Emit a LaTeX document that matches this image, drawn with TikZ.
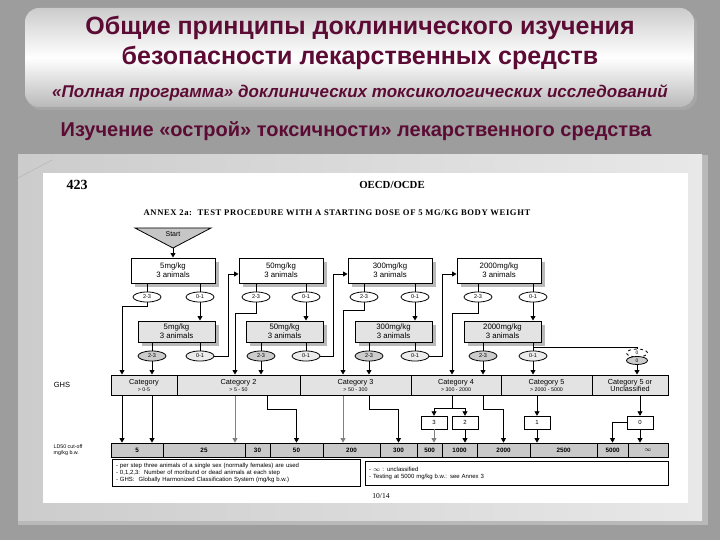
\documentclass[tikz,border=0pt]{standalone}
\usepackage{fontspec}
\setmainfont{Liberation Sans}
\newfontfamily\paperfont{Liberation Serif}
\newfontfamily\annexfont[LetterSpace=7]{Liberation Serif}
\usetikzlibrary{shapes.geometric,shadows,arrows.meta}
\definecolor{titlered}{HTML}{5C0B34}
\definecolor{slidebg}{HTML}{9D9D9D}
\tikzset{
  arr/.style={-{Triangle[length=4.5pt,width=5pt]}, line width=0.8pt},
  dosebox/.style={draw, line width=1pt, fill=white, minimum width=84pt, minimum height=25pt,
    inner sep=0pt, align=center, font=\fontsize{7.8}{8.8}\selectfont,
    drop shadow={shadow xshift=4pt, shadow yshift=-4pt, fill=gray!55, opacity=1}},
  outcome/.style={draw, ellipse, line width=0.8pt, fill=white, minimum width=28pt, minimum height=10pt,
    inner sep=0pt, font=\fontsize{5.5}{6}\selectfont},
  catbox/.style={draw, line width=1pt, fill=gray!22, minimum height=20pt, inner sep=0pt,
    align=center, font=\fontsize{7.3}{8}\selectfont},
  ldbox/.style={draw, line width=0.8pt, fill=gray!42, minimum height=14pt, inner sep=0pt,
    font=\fontsize{6.3}{7}\selectfont\bfseries},
  countbox/.style={draw, fill=white, minimum width=26pt, minimum height=13pt, inner sep=0pt,
    font=\fontsize{6}{6.5}\selectfont},
  notebox/.style={draw, line width=0.8pt, fill=white, minimum height=24pt, inner sep=4pt,
    align=left, font=\fontsize{6}{7}\selectfont},
  titletext/.style={text=titlered, font=\bfseries\fontsize{25}{28}\selectfont}
}
\begin{document}
\begin{tikzpicture}[x=1pt, y=-1pt]
  \fill[slidebg] (0,0) rectangle (720,540);
  \useasboundingbox (0,0) rectangle (720,540);
  \fill[gray!70, rounded corners=14pt] (27,11) rectangle (697,110);
  \shade[rounded corners=14pt, top color=gray!40, bottom color=gray!55, middle color=white] (25,8) rectangle (694,107);
  \node[titletext] (t1) at (360,28) {Общие принципы доклинического изучения};
  \node[titletext] (t2) at (360,58) {безопасности лекарственных средств};
  \node[text=titlered, font=\bfseries\itshape\fontsize{17}{20}\selectfont] (t3) at (360,93) {«Полная программа» доклинических токсикологических исследований};
  \node[titletext, font=\bfseries\fontsize{20}{23}\selectfont] (t4) at (356,131) {Изучение «острой» токсичности» лекарственного средства};

  \fill[gray!55] (18,155) rectangle (708,525);
  \shade[left color=gray!40, right color=gray!18] (18,155) rectangle (702,520);
  \fill[white] (43,173) rectangle (688,503);
  \draw[gray!60] (18,178) -- (52,160);

  \node[font=\paperfont\bfseries\fontsize{14}{16}\selectfont] (pg) at (77,185) {423};
  \node[font=\paperfont\bfseries\fontsize{10.8}{12}\selectfont] (oecd) at (392,185) {OECD/OCDE};
  \node[font=\annexfont\bfseries\fontsize{8.6}{10}\selectfont] (annex) at (337,213) {ANNEX 2a:\ \ TEST PROCEDURE WITH A STARTING DOSE OF 5 MG/KG BODY WEIGHT};

  \filldraw[fill=gray!45, line width=0.8pt] (135,228) -- (211,228) -- (173,248) -- cycle;
  \node[font=\fontsize{7}{7.5}\selectfont] (start) at (173,234) {Start};
  \coordinate (tip) at (173,248);

  \node[catbox, minimum width=66pt] (c1) at (144,385) {Category\\[-1pt]{\fontsize{5.3}{6}\selectfont > 0-5}};
  \node[catbox, minimum width=123pt] (c2) at (238.5,385) {Category 2\\[-1pt]{\fontsize{5.3}{6}\selectfont > 5 - 50}};
  \node[catbox, minimum width=111pt] (c3) at (355.5,385) {Category 3\\[-1pt]{\fontsize{5.3}{6}\selectfont > 50 - 300}};
  \node[catbox, minimum width=90pt] (c4) at (456,385) {Category 4\\[-1pt]{\fontsize{5.3}{6}\selectfont > 300 - 2000}};
  \node[catbox, minimum width=91pt] (c5) at (546.5,385) {Category 5\\[-1pt]{\fontsize{5.3}{6}\selectfont > 2000 - 5000}};
  \node[catbox, minimum width=76pt] (c6) at (630,385) {Category 5 or\\[-1pt]Unclassified};
  \node[font=\fontsize{7.5}{8}\selectfont] (ghs) at (62,385) {GHS};

  \foreach \a/\b/\t [count=\k] in {111/163/5, 163/245/25, 245/270/30, 270/323/50, 323/380/200, 380/417/300,
      417/442/500, 442/477/1000, 477/530/2000, 530/597/2500, 597/628/5000, 628/668/$\infty$}
    \node[ldbox, minimum width=\b-\a] (d\k) at ({(\a+\b)/2},450) {\t};
  \node[align=left, font=\fontsize{5.3}{5.8}\selectfont] (ld) at (68,450) {LD50 cut-off\\mg/kg b.w.};

  \foreach \i/\cx/\el/\er/\lx/\hy/\dose in {1/173/147/200/122/306/5, 2/281/256/306/235/313/50,
      3/390/364/415/343/310/300, 4/499/478/533/452/313/2000} {
    \node[dosebox] (r1-\i) at (\cx,270.5) {\dose mg/kg\\3 animals};
    \node[dosebox, fill=gray!22, minimum width=77pt, minimum height=21pt] (r2-\i) at (\cx+3.5,331.5) {\dose mg/kg\\3 animals};
    \node[outcome] (a1-\i) at (\el,297) {2-3};
    \node[outcome] (b1-\i) at (\er,297) {0-1};
    \node[outcome, fill=gray!40] (a2-\i) at (\el+5,356) {2-3};
    \node[outcome, fill=gray!15] (b2-\i) at (\er,356) {0-1};
    \coordinate (k-\i) at (\lx,\hy);
    \draw[line width=0.8pt] (r1-\i.south -| a1-\i) -- (a1-\i);
    \draw[line width=0.8pt] (r1-\i.south -| b1-\i) -- (b1-\i);
    \draw[arr] (b1-\i) -- (b1-\i |- r2-\i.north);
    \draw[line width=0.8pt] (r2-\i.south -| a2-\i) -- (a2-\i);
    \draw[line width=0.8pt] (r2-\i.south -| b2-\i) -- (b2-\i);
    \draw[arr] (a1-\i) |- (k-\i) -- (k-\i |- c\i.north);
    \draw[arr] (a2-\i) -- (a2-\i |- c\i.north);
  }
  \draw[arr] (tip) -- (r1-1);
  \coordinate (u-1) at (228,274);
  \coordinate (u-2) at (333,274);
  \coordinate (u-3) at (442,274);
  \draw[arr] (b2-1) -| (u-1) -- (u-1 -| r1-2.west);
  \draw[arr] (b2-2) -| (u-2) -- (u-2 -| r1-3.west);
  \draw[arr] (b2-3) -| (u-3) -- (u-3 -| r1-4.west);
  \draw[arr] (b2-4) -- (b2-4 |- c5.north);

  \coordinate (f4) at (637,347);
  \node[outcome, dashed, minimum width=21pt, minimum height=8pt, font=\fontsize{5}{5.5}\selectfont] (z1) at (637,353) {0};
  \node[outcome, fill=gray!40, minimum width=21pt, minimum height=8pt, font=\fontsize{5}{5.5}\selectfont] (z2) at (637,360.5) {0};
  \draw[line width=0.8pt] (b2-4 |- f4) -- (f4) -- (z1);
  \draw[arr] (z2) -- (z2 |- c6.north);

  \node[countbox] (g3) at (434,422.5) {3};
  \node[countbox] (g2) at (465,422.5) {2};
  \node[countbox] (g1) at (537,422.5) {1};
  \node[countbox] (g0) at (640,422.5) {0};
  \coordinate (j2) at (267,409);
  \coordinate (j3) at (369,409);
  \coordinate (j4) at (452,408);
  \coordinate (j5) at (483,409);

  \draw[arr] (c1.south -| k-1) -- (d1.north -| k-1);
  \draw[arr] (c1.south -| a2-1) -- (d1.north -| a2-1);
  \draw[arr, gray] (c2.south -| k-2) -- (d2.north -| k-2);
  \draw[arr] (c2.south -| j2) -- (j2) -| (d4.north);
  \draw[arr, gray] (c3.south -| k-3) -- (d5.north -| k-3);
  \draw[arr] (c3.south -| j3) -- (j3) -| (d6.north);
  \draw[line width=0.8pt] (c4.south -| j4) -- (j4);
  \draw[arr] (j4) -| (g3.north);
  \draw[arr] (j4) -| (g2.north);
  \draw[arr, gray] (g3) -- (g3 |- d7.north);
  \draw[arr] (g2) -- (g2 |- d8.north);
  \draw[arr] (c4.south -| j5) -- (j5) -| (d9.north);
  \draw[arr] (c5.south -| g1) -- (g1);
  \draw[arr] (g1) -- (g1 |- d10.north);
  \draw[arr] (c6.south -| g0) -- (g0);
  \draw[arr] (g0) -- (g0 |- d12.north);
  \draw[arr] (g0.west) -| (d11.north);

  \node[notebox, text width=240pt] (n1) at (236,473) {- per step three animals of a single sex (normally females) are used\\- 0,1,2,3:\ \ Number of moribund or dead animals at each step\\- GHS:\ \ Globally Harmonized Classification System (mg/kg b.w.)};
  \node[notebox, text width=295pt] (n2) at (516.5,473) {- $\infty$ : unclassified\\- Testing at 5000 mg/kg b.w.: see Annex 3};
  \node[font=\paperfont\fontsize{7.5}{8}\selectfont] (folio) at (381,496) {10/14};
\end{tikzpicture}
\end{document}
